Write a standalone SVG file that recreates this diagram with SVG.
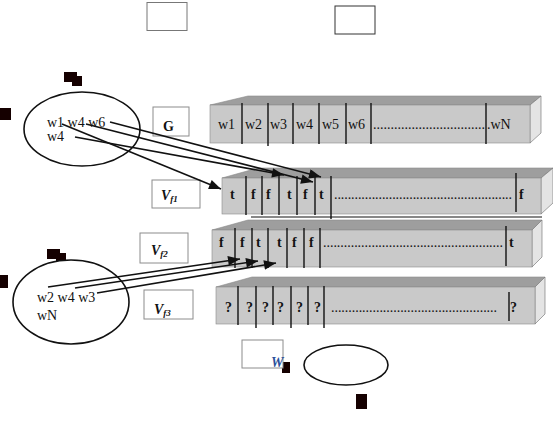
<svg xmlns="http://www.w3.org/2000/svg" width="553" height="425" viewBox="0 0 553 425">
<style>
.front{fill:#c9c9c9;stroke:#8a8a8a;stroke-width:0.6}
.top{fill:#9e9e9e;stroke:#8a8a8a;stroke-width:0.6}
.side{fill:#e4e4e4;stroke:#6a6a6a;stroke-width:0.6}
.div{stroke:#111;stroke-width:1.4}
.txt{font-family:"Liberation Serif","Times New Roman",serif;font-size:14px;fill:#111}
.b{font-weight:bold}
.lbl{fill:#fff;stroke:#8c8c8c;stroke-width:1}
.ell{fill:#fff;stroke:#111;stroke-width:1.6}
.blob{fill:#150000}
.con{stroke:#111;stroke-width:1.6;fill:none}
.ah{fill:#111}
.v{font-family:"Liberation Serif","Times New Roman",serif;font-style:italic;font-weight:bold;fill:#111}
</style>

<g id="emptyBox1"><rect x="147" y="2.5" width="40" height="28" fill="#fff" stroke="#777" stroke-width="1"/></g>
<g id="emptyBox2"><rect x="335" y="6" width="40" height="28" fill="#fff" stroke="#333" stroke-width="1"/></g>

<g id="blobs">
<path class="blob" d="M64,72 H77 V76 H82 V86 H72 V82 H64 Z"/>
<rect class="blob" x="0" y="108" width="11" height="12"/>
<path class="blob" d="M47,249 H60 V253 H66 V262 H56 V259 H47 Z"/>
<rect class="blob" x="0" y="275" width="8" height="13"/>
<rect class="blob" x="282" y="362" width="8" height="11"/>
<rect class="blob" x="356" y="394" width="11" height="15"/>
</g>

<g id="ellipse1">
<ellipse class="ell" cx="82" cy="129" rx="58" ry="37"/>
<text class="txt" x="47" y="127">w1 w4 w6</text>
<text class="txt" x="47" y="141">w4</text>
</g>

<g id="ellipse2">
<ellipse class="ell" cx="71" cy="302" rx="58" ry="42"/>
<text class="txt" x="37" y="302">w2 w4 w3</text>
<text class="txt" x="37" y="320">wN</text>
</g>

<g id="ellipse3"><ellipse class="ell" cx="346" cy="365" rx="42" ry="20"/></g>

<g id="labelG">
<rect class="lbl" x="153" y="107" width="36" height="29"/>
<text class="txt b" x="163" y="131" font-size="15">G</text>
</g>
<g id="labelVf1">
<rect class="lbl" x="152" y="180" width="48" height="28"/>
<text class="v" x="161" y="200" font-size="14">V<tspan font-size="9" dy="2">f1</tspan></text>
</g>
<g id="labelVf2">
<rect class="lbl" x="140" y="233" width="48" height="30"/>
<text class="v" x="151" y="255" font-size="14">V<tspan font-size="9" dy="2">f2</tspan></text>
</g>
<g id="labelVf3">
<rect class="lbl" x="144" y="290" width="49" height="29"/>
<text class="v" x="154" y="314" font-size="14">V<tspan font-size="9" dy="2">f3</tspan></text>
</g>
<g id="labelW">
<rect class="lbl" x="242" y="340" width="41" height="28"/>
<text x="271" y="367" font-family="Liberation Serif, serif" font-style="italic" font-weight="bold" font-size="14" fill="#2a4f9a">W</text>
</g>

<g id="boxG">
<polygon class="top" points="210,105 248,96 541,96 530,105"/>
<polygon class="side" points="530,105 541,96 541,133 530,143"/>
<rect class="front" x="210" y="105" width="320" height="38"/>
<g class="div">
<line x1="242" y1="103" x2="242" y2="144"/><line x1="268" y1="103" x2="268" y2="146"/>
<line x1="293" y1="103" x2="293" y2="144"/><line x1="319" y1="103" x2="319" y2="144"/>
<line x1="346" y1="103" x2="346" y2="144"/><line x1="371" y1="103" x2="371" y2="144"/>
<line x1="486" y1="103" x2="486" y2="144"/>
</g>
<text class="txt" x="218" y="129">w1</text><text class="txt" x="245" y="129">w2</text>
<text class="txt" x="270" y="129">w3</text><text class="txt" x="296" y="129">w4</text>
<text class="txt" x="322" y="129">w5</text><text class="txt" x="348" y="129">w6</text>
<text class="txt" x="373" y="129" textLength="112" lengthAdjust="spacing">................................</text>
<text class="txt" x="487" y="129">.wN</text>
</g>

<g id="boxVf1">
<polygon class="top" points="222,178 258,168 553,168 541,178"/>
<polygon class="side" points="541,178 553,168 553,203 541,214"/>
<rect class="front" x="222" y="178" width="319" height="36"/>
<g class="div">
<line x1="246" y1="176" x2="246" y2="215"/><line x1="262" y1="176" x2="262" y2="215"/>
<line x1="279" y1="173" x2="279" y2="215"/><line x1="297" y1="176" x2="297" y2="215"/>
<line x1="315" y1="176" x2="315" y2="215"/><line x1="331" y1="176" x2="331" y2="219"/>
<line x1="516" y1="173" x2="516" y2="212"/>
</g>
<line x1="251" y1="217" x2="542" y2="217" stroke="#111" stroke-width="1.2"/>
<g class="txt b">
<text x="230" y="199">t</text><text x="251" y="199">f</text><text x="266" y="199">f</text>
<text x="287" y="199">t</text><text x="303" y="199">f</text><text x="319" y="199">t</text>
<text x="519" y="199">f</text>
</g>
<text class="txt" x="334" y="199" textLength="178" lengthAdjust="spacing">....................................................</text>
</g>

<g id="boxVf2">
<polygon class="top" points="212,230 248,220 542,220 532,230"/>
<polygon class="side" points="532,230 542,220 542,257 532,267"/>
<rect class="front" x="212" y="230" width="320" height="37"/>
<g class="div">
<line x1="235" y1="228" x2="235" y2="268"/><line x1="252" y1="228" x2="252" y2="268"/>
<line x1="268" y1="228" x2="268" y2="268"/><line x1="287" y1="228" x2="287" y2="268"/>
<line x1="304" y1="228" x2="304" y2="268"/><line x1="320" y1="228" x2="320" y2="268"/>
<line x1="506" y1="226" x2="506" y2="266"/>
</g>
<g class="txt b">
<text x="219" y="247">f</text><text x="240" y="247">f</text><text x="256" y="247">t</text>
<text x="277" y="247">t</text><text x="292" y="247">f</text><text x="309" y="247">f</text>
<text x="509" y="247">t</text>
</g>
<text class="txt" x="323" y="247" textLength="180" lengthAdjust="spacing">....................................................</text>
</g>

<g id="boxVf3">
<polygon class="top" points="216,287 252,277 545,277 535,287"/>
<polygon class="side" points="535,287 545,277 545,314 535,324"/>
<rect class="front" x="216" y="287" width="319" height="37"/>
<g class="div">
<line x1="238" y1="286" x2="238" y2="325"/><line x1="256" y1="286" x2="256" y2="328"/>
<line x1="273" y1="286" x2="273" y2="325"/><line x1="291" y1="286" x2="291" y2="328"/>
<line x1="308" y1="286" x2="308" y2="325"/><line x1="324" y1="286" x2="324" y2="328"/>
<line x1="509" y1="292" x2="509" y2="321"/>
</g>
<g class="txt b">
<text x="225" y="312">?</text><text x="246" y="312">?</text><text x="262" y="312">?</text>
<text x="277" y="312">?</text><text x="296" y="312">?</text><text x="314" y="312">?</text>
<text x="510" y="312">?</text>
</g>
<text class="txt" x="331" y="312" textLength="166" lengthAdjust="spacing">................................................</text>
</g>

<g id="connectors">
<defs>
<marker id="arr" viewBox="0 0 10 8" refX="10" refY="4" markerWidth="8" markerHeight="6" orient="auto" markerUnits="strokeWidth">
<path d="M0,0 L10,4 L0,8 Z" class="ah"/>
</marker>
</defs>
<line class="con" x1="62" y1="124" x2="221" y2="189" marker-end="url(#arr)"/>
<line class="con" x1="110" y1="122" x2="321" y2="177" marker-end="url(#arr)"/>
<line class="con" x1="86" y1="124" x2="313" y2="182" marker-end="url(#arr)"/>
<line class="con" x1="75" y1="137" x2="284" y2="175" marker-end="url(#arr)"/>
<line class="con" x1="48" y1="287" x2="240" y2="259" marker-end="url(#arr)"/>
<line class="con" x1="75" y1="288" x2="258" y2="261" marker-end="url(#arr)"/>
<line class="con" x1="97" y1="293" x2="276" y2="263" marker-end="url(#arr)"/>
</g>
</svg>
